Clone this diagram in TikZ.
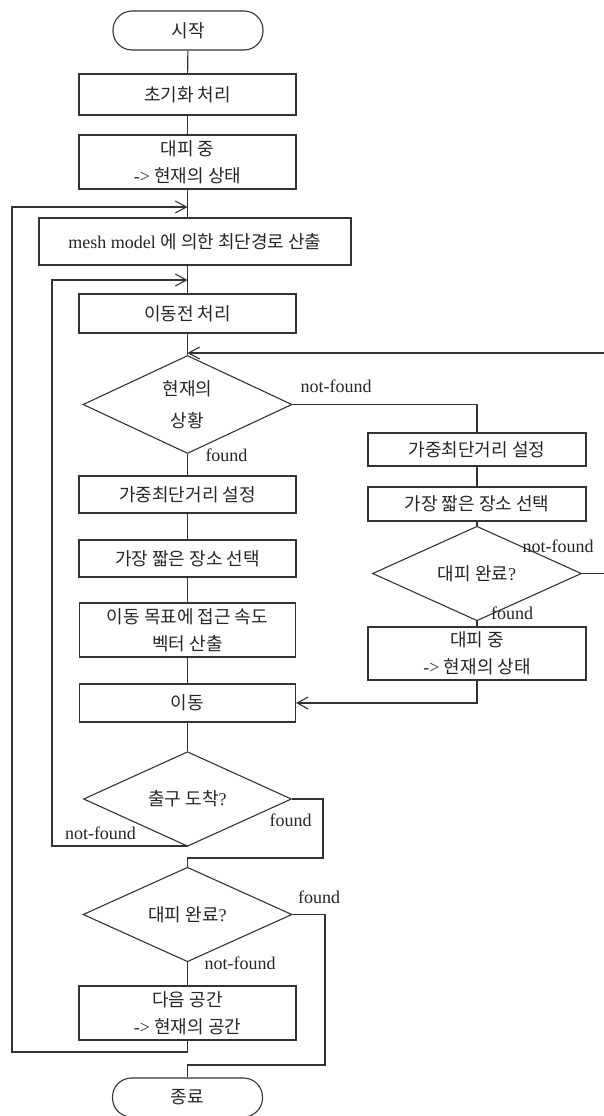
\documentclass[tikz,border=0pt]{standalone}
\usepackage{fontspec}
\setmainfont{Liberation Serif}
\newfontfamily\kr{Noto Sans CJK KR}
\usetikzlibrary{shapes.geometric,arrows.meta}
\begin{document}
\begin{tikzpicture}[x=1pt,y=-1pt,
  every node/.style={font=\fontsize{18}{27}\selectfont, text=black!85},
  box/.style={draw=black!80, line width=1.1pt, rectangle, inner sep=0pt, align=center},
  term/.style={draw=black!80, line width=1.1pt, rectangle, rounded corners=19pt, inner sep=0pt, minimum width=150pt, minimum height=39pt},
  dec/.style={draw=black!80, line width=1.1pt, diamond, inner sep=0pt, align=center},
  lab/.style={inner sep=0pt},
  conn/.style={line width=1.1pt, draw=black!80},
  arr/.style={conn, -{Straight Barb[length=11pt,width=12pt]}},
]
\useasboundingbox (0,0) rectangle (604,1116);
% main column
\node[term] (start) at (188,30.5) {\kr 시작};
\node[box, minimum width=217pt, minimum height=41pt] (init) at (187.5,94.5) {\kr 초기화 처리};
\node[box, minimum width=217pt, minimum height=54pt] (ev1) at (187.5,162) {{\kr 대피 중}\\-> {\kr 현재의 상태}};
\node[box, minimum width=312pt, minimum height=47pt] (mesh) at (195,241.5) {mesh model {\kr 에 의한 최단경로 산출}};
\node[box, minimum width=217pt, minimum height=39pt] (pre) at (187.5,313.5) {\kr 이동전 처리};
\node[dec, minimum width=209pt, minimum height=73pt] (d1) at (187.5,404.5) {{\kr 현재의}\\[5pt]{\kr 상황}};
\node[box, minimum width=217pt, minimum height=37pt] (lA) at (187.5,494.5) {\kr 가중최단거리 설정};
\node[box, minimum width=217pt, minimum height=37pt] (lB) at (187.5,558.5) {\kr 가장 짧은 장소 선택};
\node[box, minimum width=216pt, minimum height=54pt] (lC) at (187.5,630) {{\kr 이동 목표에 접근 속도}\\{\kr 벡터 산출}};
\node[box, minimum width=216pt, minimum height=38pt] (mv) at (187.5,703) {\kr 이동};
\node[dec, minimum width=208pt, minimum height=72pt] (d3) at (187.5,799) {{\kr 출구 도착}?};
\node[dec, minimum width=209pt, minimum height=73pt] (d4) at (187.5,914.5) {{\kr 대피 완료}?};
\node[box, minimum width=217pt, minimum height=54pt] (nx) at (187.5,1013) {{\kr 다음 공간}\\-> {\kr 현재의 공간}};
\node[term] (end) at (187.5,1097.5) {\kr 종료};
% right column
\node[box, minimum width=218pt, minimum height=33pt] (rA) at (477,449.5) {\kr 가중최단거리 설정};
\node[box, minimum width=218pt, minimum height=34pt] (rB) at (477,504) {\kr 가장 짧은 장소 선택};
\node[dec, minimum width=209pt, minimum height=63pt] (d2) at (477,573.5) {{\kr 대피 완료}?};
\node[box, minimum width=218pt, minimum height=53pt] (rC) at (477,653.5) {{\kr 대피 중}\\-> {\kr 현재의 상태}};
% helper coordinates
\coordinate (j3) at (187.5,207);
\coordinate (j2) at (187.5,280);
\coordinate (j1) at (187.5,353);
\coordinate (rt) at (607,353);
\coordinate (lf1) at (12,1052);
\coordinate (lf2) at (52,846);
\coordinate (rr1) at (323,858);
\coordinate (rr2) at (325,1065);
% connectors
\draw[conn] (start) -- (init);
\draw[conn] (init) -- (ev1);
\draw[conn] (ev1.south) -- (ev1.south |- mesh.north);
\draw[conn] (pre.north |- mesh.south) -- (pre.north);
\draw[conn] (pre) -- (d1);
\draw[conn] (d1) -- (lA);
\draw[conn] (lA) -- (lB);
\draw[conn] (lB) -- (lC);
\draw[conn] (lC) -- (mv);
\draw[conn] (mv) -- (d3);
\draw[conn] (d1.east) -| (rA.north);
\draw[conn] (rA) -- (rB);
\draw[conn] (rB) -- (d2);
\draw[conn] (d2) -- (rC);
\draw[arr] (rC.south) |- (mv.east);
\draw[arr] (d2.east) -| (rt) -- (j1);
\draw[arr] (d3.south) |- (lf2) -- (lf2 |- j2) -- (j2);
\draw[arr] (nx.south) |- (lf1) -- (lf1 |- j3) -- (j3);
\draw[conn] (d3.east) -| (rr1) -| (d4.north);
\draw[conn] (d4.east) -| (rr2) -| (end.north);
\draw[conn] (d4) -- (nx);
% labels
\node[lab] (l1) at (336,386) {not-found};
\node[lab] (l2) at (226.5,455) {found};
\node[lab] (l3) at (558,546) {not-found};
\node[lab] (l4) at (512,613) {found};
\node[lab] (l5) at (290.5,820) {found};
\node[lab] (l6) at (100.5,833) {not-found};
\node[lab] (l7) at (319,897) {found};
\node[lab] (l8) at (240,963) {not-found};
\end{tikzpicture}
\end{document}
